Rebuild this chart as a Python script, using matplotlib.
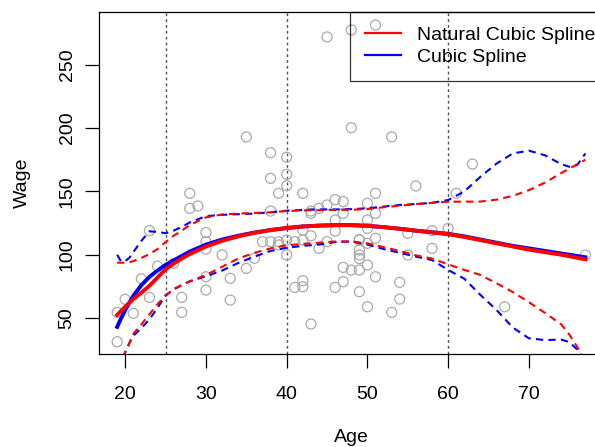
import numpy as np
import matplotlib
matplotlib.use("Agg")
import matplotlib.pyplot as plt
from matplotlib.lines import Line2D

plt.rcParams['font.family'] = ['Liberation Sans', 'DejaVu Sans']

# scatter sample (age, wage)
age = [45, 48, 51, 35, 38, 40, 38, 40, 40, 39, 42, 28, 46, 47, 48, 53, 63, 56, 51, 61,
       28, 29, 23, 30, 30, 30, 32, 24, 22, 26, 30, 33, 35, 36, 30, 33, 27, 27, 23, 20,
       21, 19, 19, 37, 38, 39, 39, 40, 40, 41, 42, 42, 43, 44, 45, 47, 46, 46, 44, 43,
       41, 42, 42, 46, 47, 47, 48, 49, 49, 49, 49, 49, 50, 50, 50, 50, 50, 51, 51, 51,
       49, 50, 53, 54, 54, 55, 55, 58, 58, 60, 67, 77, 38, 43, 45, 49, 43]
wage = [272, 277.5, 281.4, 193, 180.6, 177, 160.3, 163.5, 154.5, 148.5, 148.5, 148.5, 143.5, 142, 200.3, 193, 171.6, 154.3, 148.5, 148.5,
        136.6, 138.5, 119, 117.5, 110.3, 104.5, 99.8, 91, 81, 93.2, 82.6, 81.4, 89.2, 97.2, 72.1, 64.2, 66.3, 54.5, 66.3, 64.8,
        53.7, 54.5, 31.3, 110.3, 110.3, 110.3, 107.7, 111.6, 99.8, 110.3, 111.6, 119.5, 132.7, 136.6, 139.3, 132.7, 127.4, 118.7, 105, 45.3,
        74.2, 79.5, 74.7, 74.2, 78.7, 90, 87.9, 87.9, 99.8, 97, 103.7, 111.6, 109, 91.9, 120.8, 127.4, 140.6, 132.7, 113, 82.6,
        70.8, 58.9, 54.5, 65, 78.2, 99.8, 116.9, 119, 105, 120.8, 58.9, 99.8, 134.5, 134.5, 110.3, 112, 115]

knots = [25, 40, 60]

# fitted curves and confidence bands, read at these ages
grid = [19, 19.5, 20, 20.5, 21, 22, 23, 24, 25, 26, 27, 28, 30, 32, 34, 36, 38, 40, 42, 44,
        46, 48, 50, 52, 54, 56, 58, 60, 62, 64, 66, 68, 70, 72, 74, 75, 76, 77]

cs_fit = [43, 50, 56.3, 62, 67.5, 76, 82.5, 87.5, 92, 95.5, 99, 102.5, 108, 112, 115, 117.5, 119.5, 121, 122.3, 123,
          123.4, 123.4, 122.8, 121.8, 120.5, 119, 117.8, 116.5, 114.5, 112, 109.5, 107, 105, 103, 101, 100, 99, 98]
cs_hi = [100, 94.5, 95, 97.5, 102, 111, 118.5, 118, 117, 119, 122, 125.5, 130.5, 131.5, 132, 132.5, 133.5, 134.8, 135.3, 135.8,
         135.8, 136, 136.7, 138, 139.3, 140, 141, 143.2, 150, 161.6, 172, 180, 182.2, 178.5, 171.5, 169.5, 171, 180]
cs_lo = [10, 16, 23, 30, 36, 42, 49, 58, 68, 72.5, 76, 79, 83, 87.5, 93.5, 98.5, 103, 105.5, 107, 108,
         110, 110.5, 108, 104.5, 101.5, 98.5, 95.8, 88, 81, 68.2, 56.3, 42.5, 34, 32.6, 33, 31, 25, 16]

ns_fit = [52.4, 55.7, 59, 62, 65, 70, 75.5, 82, 88.5, 93, 97, 100.5, 106.5, 111, 114.5, 117.3, 119.5, 121.2, 122.3, 123,
          123.3, 123.3, 122.8, 121.8, 120.5, 119, 117.6, 116.2, 114, 111.5, 109, 106.5, 104, 102, 100, 98.8, 97.5, 96.4]
ns_hi = [93.7, 93.7, 93.7, 94, 95, 97.5, 100.5, 104.5, 110, 115, 119, 123.5, 129.5, 131.8, 132.5, 133, 133.5, 134.5, 135, 135.2,
         135.3, 135.5, 136, 137.5, 138.7, 140, 141, 141.9, 141.9, 142, 143.5, 146.5, 151, 157, 164.5, 168, 171.5, 175]
ns_lo = [10, 16, 23, 30, 37.5, 45, 53, 61, 67.5, 73, 76, 79, 84, 90.5, 97, 101.5, 105, 107.5, 108.5, 109.5,
         110.5, 110.5, 109, 106, 103, 99.5, 97, 92.4, 88, 84, 77.4, 70.5, 62.5, 54, 45, 37, 27, 16]

fig = plt.figure(figsize=(5.95, 4.47), dpi=100)
# plot region runs a little past the right edge, like the cropped original
ax = fig.add_axes([99.3 / 595, 93 / 447, (604 - 99.3) / 595, 342 / 447])

ax.scatter(age, wage, s=52, facecolors='none', edgecolors='#aaaaaa', linewidths=0.9, zorder=2)

for k in knots:
    ax.axvline(k, color='#505050', lw=1.0, linestyle=(0, (2, 2.2)), zorder=1)

dash = (0, (3.5, 2.5))
ax.plot(grid, cs_fit, color='blue', lw=2.8, zorder=3)
ax.plot(grid, cs_hi, color='blue', lw=1.5, linestyle=dash, zorder=3)
ax.plot(grid, cs_lo, color='blue', lw=1.5, linestyle=dash, zorder=3)
ax.plot(grid, ns_fit, color='red', lw=2.8, zorder=4)
ax.plot(grid, ns_hi, color='red', lw=1.5, linestyle=dash, zorder=4)
ax.plot(grid, ns_lo, color='red', lw=1.5, linestyle=dash, zorder=4)

ax.set_xlim(16.79, 79.3)
ax.set_ylim(21.6, 291.7)
ax.set_xticks([20, 30, 40, 50, 60, 70])
ax.set_yticks([50, 100, 150, 200, 250])
ax.set_yticklabels(['50', '100', '150', '200', '250'], rotation=90, va='center')

ax.spines['right'].set_visible(False)
for s in ['top', 'left', 'bottom']:
    ax.spines[s].set_linewidth(0.9)
ax.tick_params(direction='out', length=10, width=0.9, labelsize=14)
ax.tick_params(axis='x', pad=13)
ax.tick_params(axis='y', pad=7)

ax.set_xlabel('Age', fontsize=14, labelpad=19)
ax.set_ylabel('Wage', fontsize=14, labelpad=20)

handles = [Line2D([], [], color='red', lw=1.6), Line2D([], [], color='blue', lw=1.6)]
leg = ax.legend(handles, ['Natural Cubic Spline', 'Cubic Spline'], loc='upper left',
                bbox_to_anchor=((350 - 99.3) / (604 - 99.3), 1.0), borderaxespad=0,
                fontsize=14, frameon=True, fancybox=False, handlelength=1.85,
                handletextpad=0.87, borderpad=0.75, labelspacing=0.22)
# R legends have no fill, points show through
leg.get_frame().set_facecolor('none')
leg.get_frame().set_edgecolor('black')
leg.get_frame().set_linewidth(0.9)

fig.savefig('out.png', dpi=100)
